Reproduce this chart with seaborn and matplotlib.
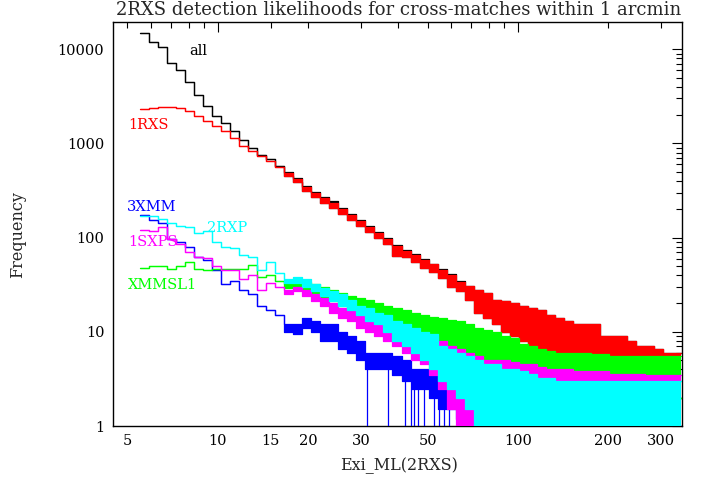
import numpy as np
import pandas as pd
import matplotlib
matplotlib.use("Agg")
import matplotlib.pyplot as plt
import seaborn as sns
from matplotlib.ticker import FixedLocator, FixedFormatter

# ---- histogram grid (coarsened bins of Exi_ML) ----
bin_lo, bin_hi, n_bins = 5.5, 350.0, 60

# ---- counts per bin: upper edge (hi) and lower edge (lo) of the noisy band ----
all_hi = [15000, 11800, 10500, 7190, 6000, 4500, 3300, 2500, 1950, 1650, 1350, 1100, 900, 760, 680, 580,
          495, 432, 355, 308, 270, 242, 206, 180, 155, 134, 115, 100, 84, 74, 67, 60, 53, 46, 41, 35,
          31, 28, 26, 22, 21, 20, 19, 18, 17, 15, 14, 13, 12, 12, 12, 9, 9, 9, 8, 7, 7, 6.5, 6, 6]

rxs_hi = [2300, 2400, 2420, 2420, 2380, 2200, 1950, 1720, 1520, 1350, 1150, 950, 830, 740, 650, 560,
          480, 420, 345, 300, 262, 235, 200, 175, 150, 130, 112, 97, 82, 72, 65, 58, 52, 45, 40, 34,
          31, 28, 26, 22, 21, 20, 19, 18, 17, 15, 14, 13, 12, 12, 12, 9, 9, 9, 8, 7, 7, 6.5, 6, 6]
rxs_lo = [None] * 16 + [450, 390, 315, 270, 235, 205, 178, 155, 132, 115, 98, 85, 64, 62, 55, 48, 43,
                        37, 30, 27, 22, 16, 14, 12, 10, 9, 8, 7, 6.5, 6, 5, 4, 3.5, 3, 3, 3, 3, 3,
                        2.5, 2.5, 2, 2, 2, 2]
all_lo = rxs_lo

xmm_hi = [175, 155, 142, 96, 90, 80, 62, 58, 45, 32, 35, 28, 25, 19, 17, 15,
          12, 12, 14, 13, 12, 12, 10, 9, 8, 6, 6, 6, 5.5, 5, 4, 4, 3.5, 3, 3, 2.5, 2,
          2, 2, 2, 2, 2, 2, 2, 2, 2, 2, 2, 2, 2, 2, 2, 2, 2, 2, 2, 2, 2, 2, 2]
xmm_lo = [None] * 16 + [10, 9.5, 11, 10, 8, 8, 6.5, 6, 5, 4, 4, 4, 3.5, 3, 2.5, 2.5, 2, 1.5, 1.5, 1.2,
                        1, 1, 1, 1, 1, 1, 1, 1, 1, 1, 1, 1, 1, 1, 1, 1, 1, 1, 1, 1, 1, 1, 1, 1]
xmm_zero_bins = [31.4, 36.8, 42.0, 43.9, 45.2, 46.6, 48.5, 52.5, 54.5, 56.7, 58.9]

rxp_hi = [170, 168, 157, 142, 134, 131, 111, 118, 90, 80, 77, 65, 62, 45, 55, 42,
          36, 38, 36, 32, 29, 27, 25, 22, 19, 18, 16, 15, 13, 12, 11, 10, 9.5, 7, 6.5, 6,
          5.5, 5, 4.5, 4.5, 4, 4, 3.8, 3.6, 3.2, 3.2, 3, 3, 3, 3, 3, 3, 3, 3, 3, 3, 3, 3, 3, 3]
rxp_lo = [None] * 16 + [33, 33, 30, 27, 24, 21, 19, 17, 15, 13, 12, 10, 8, 7, 6, 5, 4, 3, 2.5,
                        2, 1.5, 1, 1, 1, 1, 1, 1, 1, 1, 1, 1, 1, 1, 1, 1, 1, 1, 1, 1, 1, 1, 1, 1, 1]

sxps_hi = [120, 118, 131, 97, 85, 70, 63, 61, 50, 45, 45, 36, 40, 28, 33, 30,
           28, 30, 28, 25, 23, 20, 18, 17, 16, 15, 13, 12, 11, 10.5, 10, 9.5, 9, 8, 7, 6.5,
           6, 5.5, 5, 5, 5, 4.8, 4.5, 4.5, 4.2, 4, 4, 4, 3.8, 3.8, 3.8, 3.8, 3.6, 3.6, 3.6,
           3.6, 3.5, 3.5, 3.5, 3.5]
sxps_lo = [None] * 16 + [25, 27, 24, 21, 19, 16, 14, 13, 11, 10, 9, 8, 7, 6, 5, 4.5, 3.5, 2.5, 1.5, 1,
                         1, 1, 1, 1, 1, 1, 1, 1, 1, 1, 1, 1, 1, 1, 1, 1, 1, 1, 1, 1, 1, 1, 1, 1]

xmmsl_hi = [48, 50, 50, 47, 50, 55, 47, 45, 46, 46, 46, 46, 51, 38, 40, 35,
            32, 33, 34, 32, 30, 28, 26, 24, 23, 22, 20, 19, 18, 17, 16, 15, 14.5, 14, 13.5, 13,
            12, 11, 10.5, 10, 9, 8.5, 7.5, 7, 6.5, 6.3, 6, 6, 6, 6, 5.8, 5.8, 5.6, 5.6, 5.5, 5.5,
            5.5, 5.5, 5.5, 5.5]
xmmsl_lo = [None] * 16 + [29, 29, 28, 25, 23, 21, 19, 17, 16, 15, 13, 12, 11, 10, 9, 8, 7, 6.5, 6,
                          5.5, 5, 4.5, 4, 3.5, 3, 3, 2.5, 2.5, 2, 2, 2, 2, 2, 2, 2, 2, 2, 2, 2, 2,
                          2, 2, 2, 2]

colors = {"all": "#000000", "1RXS": "#ff0000", "3XMM": "#0000ff",
          "2RXP": "#00ffff", "1SXPS": "#ff00ff", "XMMSL1": "#00ff00"}

# ---- style ----
sns.set_theme(style="white")
plt.rcParams["font.family"] = ["DejaVu Serif"]
plt.rcParams["axes.linewidth"] = 1.0

fig = plt.figure(figsize=(7.07, 4.79), dpi=100)
ax = fig.add_axes([112.7 / 707, 53 / 479, 569 / 707, 404.3 / 479])
ax.set_xscale("log")
ax.set_yscale("log")

edges = np.geomspace(bin_lo, bin_hi, n_bins + 1)

specs = [("all", all_hi, all_lo, 1),
         ("1RXS", rxs_hi, rxs_lo, 2),
         ("3XMM", xmm_hi, xmm_lo, 3),
         ("XMMSL1", xmmsl_hi, xmmsl_lo, 4),
         ("1SXPS", sxps_hi, sxps_lo, 5),
         ("2RXP", rxp_hi, rxp_lo, 6)]

for name, hi, lo, z in specs:
    hi = np.asarray(hi, float)
    lo = np.array([h if l is None else l for h, l in zip(hi, lo)], float)
    hi_s = np.r_[hi, hi[-1]]
    lo_s = np.r_[lo, lo[-1]]
    col = colors[name]
    ax.fill_between(edges, lo_s, hi_s, step="post", color=col, lw=0, zorder=z)
    df = pd.DataFrame({"x": np.r_[edges, edges], "y": np.r_[hi_s, lo_s],
                       "edge": ["hi"] * len(edges) + ["lo"] * len(edges)})
    sns.lineplot(data=df, x="x", y="y", units="edge", estimator=None, sort=False,
                 drawstyle="steps-post", color=col, lw=0.9, ax=ax, zorder=z, legend=False)
    if name == "3XMM":
        idx = np.clip(np.searchsorted(edges, xmm_zero_bins) - 1, 0, n_bins - 1)
        ax.vlines(xmm_zero_bins, 1, lo[idx], color=col, lw=0.9, zorder=z)

ax.set_xlim(4.47, 351)
ax.set_ylim(1, 19600)

# ticks
ax.xaxis.set_major_locator(FixedLocator([10, 100]))
ax.xaxis.set_major_formatter(FixedFormatter(["10", "100"]))
xminor = [5, 6, 7, 8, 9, 15, 20, 30, 40, 50, 60, 70, 80, 90, 200, 300]
ax.xaxis.set_minor_locator(FixedLocator(xminor))
ax.xaxis.set_minor_formatter(FixedFormatter(["5", "", "", "", "", "15", "20", "30", "", "50",
                                             "", "", "", "", "200", "300"]))
ax.yaxis.set_major_locator(FixedLocator([1, 10, 100, 1000, 10000]))
ax.yaxis.set_major_formatter(FixedFormatter(["1", "10", "100", "1000", "10000"]))
ax.yaxis.set_minor_locator(FixedLocator([m * 10 ** d for d in range(5) for m in range(2, 10)]))
ax.tick_params(which="both", direction="in", top=True, right=True, colors="black",
               labelsize=10.5, width=0.8, pad=6)
ax.tick_params(which="major", length=7)
ax.tick_params(which="minor", length=4)
ax.set_xlabel("")
ax.set_ylabel("")
for s in ax.spines.values():
    s.set_color("black")
    s.set_linewidth(1.0)

# series labels
txt = dict(fontsize=10.5, ha="left", va="center", zorder=10)
ax.text(8.03, 9570, "all", color=colors["all"], **txt)
ax.text(5.03, 1567, "1RXS", color=colors["1RXS"], **txt)
ax.text(4.99, 211, "3XMM", color=colors["3XMM"], **txt)
ax.text(9.21, 126, "2RXP", color=colors["2RXP"], **txt)
ax.text(5.03, 89.8, "1SXPS", color=colors["1SXPS"], **txt)
ax.text(5.03, 31.4, "XMMSL1", color=colors["XMMSL1"], **txt)

fig.text(399 / 707, 1 - 10 / 479, "2RXS detection likelihoods for cross-matches within 1 arcmin",
         ha="center", va="center", fontsize=13)
fig.text(399 / 707, 1 - 466 / 479, "Exi_ML(2RXS)", ha="center", va="center", fontsize=11.5)
fig.text(18 / 707, 1 - 235 / 479, "Frequency", ha="center", va="center", rotation=90, fontsize=11.5)

fig.savefig("out.png", dpi=100)
